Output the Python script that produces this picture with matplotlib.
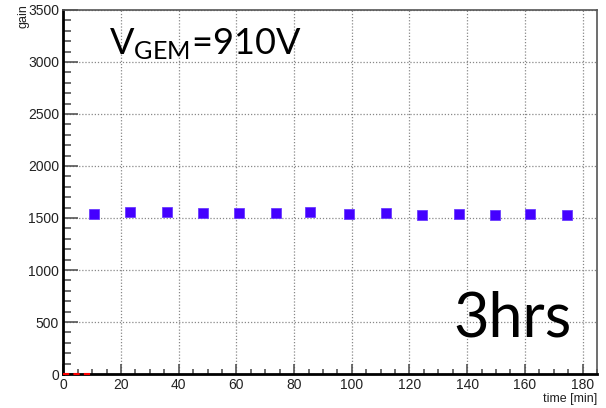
import matplotlib
matplotlib.use('Agg')
import matplotlib.pyplot as plt
from matplotlib.ticker import MultipleLocator

# gain measured every ~12.5 min over 3 hours
time_min = [10.6, 23.0, 35.8, 48.4, 60.9, 73.7, 85.5, 98.9, 111.7, 124.5, 137.0, 149.5, 161.8, 174.6]
gain = [1535, 1560, 1560, 1548, 1548, 1551, 1560, 1538, 1551, 1529, 1541, 1529, 1541, 1529]

x_ticks = [0, 20, 40, 60, 80, 100, 120, 140, 160, 180]
y_ticks = [0, 500, 1000, 1500, 2000, 2500, 3000, 3500]


def plot_gain(x, y):
    plt.rcParams['font.family'] = ['Liberation Sans', 'DejaVu Sans']
    plt.rcParams['mathtext.fontset'] = 'custom'
    plt.rcParams['mathtext.rm'] = 'Lato'
    plt.rcParams['mathtext.it'] = 'Lato'

    fig = plt.figure(figsize=(6.06, 4.08), dpi=100)
    ax = fig.add_axes([63.3 / 606, 34 / 408, (597 - 63.3) / 606, (374 - 10) / 408])

    ax.plot(x, y, 's', color='#4400ff', markersize=6.5, markeredgewidth=0.6,
            markeredgecolor='#6a3cff', zorder=3)
    # red dashed baseline up to the first measurement
    ax.plot([0, x[0]], [0, 0], color='red', linestyle=(0, (3, 2)), lw=1.5,
            clip_on=False, zorder=4)

    ax.set_xlim(0, 185)
    ax.set_ylim(0, 3500)
    ax.set_xticks(x_ticks)
    ax.set_yticks(y_ticks)
    ax.xaxis.set_minor_locator(MultipleLocator(5))
    ax.yaxis.set_minor_locator(MultipleLocator(100))

    ax.grid(True, which='major', color='#888888', linestyle=(0, (1, 1.5)), lw=0.9)
    ax.tick_params(axis='both', which='both', direction='in', color='#555555',
                   width=1.2, labelsize=10, labelcolor='#222222',
                   top=False, right=False)
    ax.tick_params(axis='y', which='major', length=10.8, pad=3)
    ax.tick_params(axis='y', which='minor', length=5.8)
    ax.tick_params(axis='x', which='major', length=7.2, pad=3)
    ax.tick_params(axis='x', which='minor', length=3.6)

    ax.spines['left'].set_linewidth(2)
    ax.spines['bottom'].set_linewidth(2)
    ax.spines['left'].set_color('black')
    ax.spines['bottom'].set_color('black')
    ax.spines['top'].set_color('#555555')
    ax.spines['right'].set_color('#555555')
    ax.spines['top'].set_linewidth(1.2)
    ax.spines['right'].set_linewidth(1.2)

    fig.text(597 / 606, 1 - 399 / 408, 'time [min]', ha='right', va='center',
             fontsize=9, color='#222222')
    fig.text(23 / 606, 1 - 16 / 408, 'gain', ha='center', va='center',
             rotation=90, fontsize=9, color='#222222')

    ax.text(0.085, 0.905, r'$\mathrm{V}_{\mathrm{GEM}}$=910V', transform=ax.transAxes,
            fontsize=26, family='Lato', color='black', va='center', ha='left')
    ax.text(0.73, 0.15, '3hrs', transform=ax.transAxes,
            fontsize=44, family='Lato', color='black', va='center', ha='left')

    fig.savefig('out.png', dpi=100)


if __name__ == '__main__':
    plot_gain(time_min, gain)
